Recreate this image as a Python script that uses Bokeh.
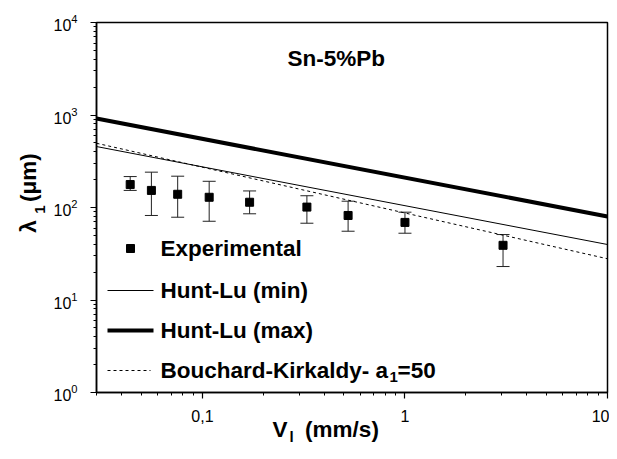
import math
from bokeh.plotting import figure
from bokeh.models import (ColumnDataSource, Whisker, TeeHead, Label, FixedTicker,
                          CustomJSTickFormatter, LogTicker, LogAxis)
from bokeh.embed import file_html
from bokeh.resources import INLINE

# ---- data ----
v_exp = [0.044, 0.056, 0.0755, 0.108, 0.171, 0.328, 0.524, 1.0, 3.05]
lam_exp = [177, 153, 139, 129, 114, 101, 82, 69, 39]
lam_upper = [216, 241, 218, 192, 151, 134, 117, 89, 51]
lam_lower = [153, 82, 78.5, 71, 85.5, 67.6, 55.4, 52.7, 23]

v_model = [0.03, 10]
hunt_lu_min = [456, 39.8]
hunt_lu_max = [916, 80]
bouchard_kirkaldy = [495, 27.9]

x_ticks = [0.1, 1, 10]
x_minor = [0.03, 0.04, 0.05, 0.06, 0.07, 0.08, 0.09,
           0.2, 0.3, 0.4, 0.5, 0.6, 0.7, 0.8, 0.9,
           2, 3, 4, 5, 6, 7, 8, 9]

legend_labels = ["Experimental", "Hunt-Lu (min)", "Hunt-Lu (max)", "Bouchard-Kirkaldy- a"]
x_title = ["V", "(mm/s)"]
x_title_sub = "l"
y_title = ["\u03bb", "(\u03bcm)"]
y_title_sub = "1"

X0, X1 = 0.03, 10
Y0, Y1 = 1, 1e4
W, H = 609, 451

# page pixel -> data helpers for text placement (frame: x 96..607, y 22..392)
def dx(px):
    return 10 ** (math.log10(X0) + (px - 96) / (607 - 96) * math.log10(X1 / X0))

def dy(py):
    return 10 ** (math.log10(Y0) + (392 - py) / (392 - 22) * math.log10(Y1 / Y0))

p = figure(width=W, height=H, x_axis_type="log", y_axis_type="log",
           x_range=(X0, X1), y_range=(Y0, Y1), output_backend="svg",
           toolbar_location=None, min_border_left=96, min_border_right=2,
           min_border_top=22, min_border_bottom=H - 392)
p.xgrid.visible = False
p.ygrid.visible = False
p.outline_line_color = "black"
p.outline_line_width = 1.5
p.background_fill_color = "white"
p.border_fill_color = "white"

FONT = "Liberation Sans"
BIG = "22.5px"
SMALL = "15px"

for ax in (p.xaxis[0], p.yaxis[0]):
    ax.axis_line_width = 1.5
    ax.major_tick_line_width = 1.2
    ax.minor_tick_line_width = 1
    ax.major_tick_out = 6
    ax.major_tick_in = 0
    ax.minor_tick_out = 3
    ax.minor_tick_in = 0
    ax.major_label_text_font = FONT
    ax.major_label_text_font_size = "16px"
    ax.major_label_text_color = "black"
p.xaxis[0].major_label_standoff = 11
p.yaxis[0].major_label_standoff = 13

p.xaxis[0].ticker = FixedTicker(ticks=x_ticks, minor_ticks=x_minor)
p.xaxis[0].formatter = CustomJSTickFormatter(
    code="return tick < 1 ? tick.toString().replace('.', ',') : tick.toFixed(0);")
p.yaxis[0].ticker = LogTicker(desired_num_ticks=5, num_minor_ticks=10)


def text_axis(place, positions, labels, size, standoff, orientation="horizontal"):
    ax = LogAxis(ticker=FixedTicker(ticks=positions, minor_ticks=[]),
                 formatter=CustomJSTickFormatter(args=dict(labels=labels),
                                                 code="return labels[index];"),
                 axis_line_color=None, major_tick_line_color=None,
                 minor_tick_line_color=None, major_tick_out=0, major_tick_in=0,
                 minor_tick_out=0, minor_tick_in=0,
                 major_label_standoff=standoff,
                 major_label_orientation=orientation,
                 major_label_text_font=FONT, major_label_text_font_size=size,
                 major_label_text_font_style="bold", major_label_text_color="black")
    p.add_layout(ax, place)

# axis titles built from text-only axes (so they sit outside the frame)
text_axis("below", [dx(279.5), dx(341.5)], x_title, BIG, -8)
text_axis("below", [dx(291)], [x_title_sub], SMALL, -17)
text_axis("left", [dy(209)], [y_title_sub], SMALL, 6, "parallel")
text_axis("left", [dy(226), dy(177)], y_title, BIG, -9, "parallel")

# model lines
p.line(v_model, hunt_lu_min, line_color="black", line_width=1)
p.line(v_model, hunt_lu_max, line_color="black", line_width=4)
p.line(v_model, bouchard_kirkaldy, line_color="black", line_width=1, line_dash="3 3")

# experimental points with error bars
src = ColumnDataSource(dict(v=v_exp, lam=lam_exp, up=lam_upper, lo=lam_lower))
wh = Whisker(base="v", upper="up", lower="lo", source=src, dimension="height",
             line_color="#222222", line_width=1,
             upper_head=TeeHead(size=13, line_color="#222222", line_width=1),
             lower_head=TeeHead(size=13, line_color="#222222", line_width=1))
p.add_layout(wh)
p.scatter("v", "lam", source=src, marker="square", size=8, color="black")


def lab(text, px, py, size=BIG, align="left", angle=0.0):
    p.add_layout(Label(x=dx(px), y=dy(py), text=text, text_font=FONT,
                       text_font_size=size, text_font_style="bold",
                       text_align=align, text_baseline="middle", angle=angle,
                       text_color="black"))

# title text
lab("Sn-5%Pb", 287, 58)

# legend (manual)
rows = [248, 290, 330, 370]
p.scatter([dx(130)], [dy(rows[0])], marker="square", size=8, color="black")
p.line([dx(107), dx(153)], [dy(rows[1])] * 2, line_color="black", line_width=1)
p.line([dx(107), dx(153)], [dy(rows[2])] * 2, line_color="black", line_width=4)
p.line([dx(107), dx(150)], [dy(rows[3])] * 2, line_color="black", line_width=1,
       line_dash="3 3")
for text, r in zip(legend_labels, rows):
    lab(text, 160, r)
lab("1", 389, rows[3] + 6, size=SMALL)
lab("=50", 397, rows[3])

open("out.html", "w").write(file_html(p, INLINE))
